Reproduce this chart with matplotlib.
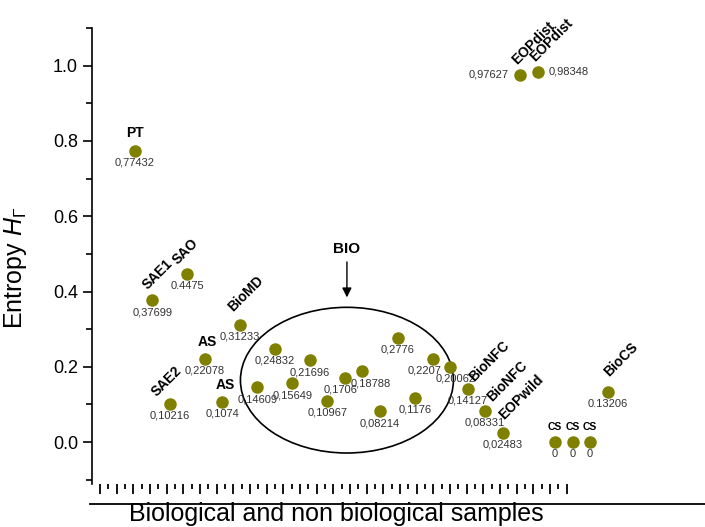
import numpy as np
import matplotlib.pyplot as plt
from matplotlib.patches import Ellipse
from matplotlib.lines import Line2D

plt.rcParams['font.family'] = ['Liberation Sans', 'DejaVu Sans']
plt.rcParams['mathtext.fontset'] = 'custom'
plt.rcParams['mathtext.rm'] = 'Liberation Sans'
plt.rcParams['mathtext.it'] = 'Liberation Sans:italic'

# sample names (empty = unnamed BIO samples inside the ellipse)
names = ['PT', 'SAE1', 'SAE2', 'SAO', 'AS', 'AS', 'BioMD',
         '', '', '', '', '', '', '', '', '', '', '', '',
         'BioNFC', 'BioNFC', 'EOPwild', 'EOPdist', 'EOPdist',
         'CS', 'CS', 'CS', 'BioCS']
value_labels = ['0,77432', '0,37699', '0,10216', '0.4475', '0,22078', '0,1074', '0,31233',
                '0,14609', '0,24832', '0,15649', '0,21696', '0,10967', '0,1706', '0,18788',
                '0,08214', '0,2776', '0,1176', '0,2207', '0,20062',
                '0,14127', '0,08331', '0,02483', '0,97627', '0,98348',
                '0', '0', '0', '0.13206']
entropy = [float(s.replace(',', '.')) for s in value_labels]
samples = np.arange(1, len(entropy) + 1)

# label placement: (rotated?, dx, dy) in points
name_style = {
    'PT': (False, 0, 10), 'AS': (False, 2, 9), 'CS': (False, 0, 8.5),
    'SAE1': (True, -3.6, 7), 'SAO': (True, -7, 6.5), 'SAE2': (True, -10, 5),
    'BioMD': (True, -5, 9), 'EOPwild': (True, 1.5, 9.4), 'EOPdist': (True, -2, 7),
    'BioCS': (True, 1.5, 11),
}
nfc_offsets = [(5, 5), (5, 6.5)]
# small horizontal nudges for crowded value labels
value_dx = {'0,1706': -3, '0,18788': 6, '0,2207': -6, '0,20062': 4}

fig = plt.figure(figsize=(7.05, 5.27), dpi=100)
ax = fig.add_axes([92 / 705, 1 - 483.5 / 527, (640 - 92) / 705, (483.5 - 28) / 527])

ax.plot(samples, entropy, 'o', color='#808000', markersize=8, zorder=3)

nfc = 0
for x, y, name, lab in zip(samples, entropy, names, value_labels):
    # numeric value
    if lab == '0,97627':
        ax.annotate(lab, (x, y), xytext=(-8, 0), textcoords='offset points',
                    ha='right', va='center', fontsize=8, color='#333333')
    elif lab == '0,98348':
        ax.annotate(lab, (x, y), xytext=(8, 0), textcoords='offset points',
                    ha='left', va='center', fontsize=8, color='#333333')
    else:
        ax.annotate(lab, (x, y), xytext=(value_dx.get(lab, 0), -5),
                    textcoords='offset points', ha='center', va='top',
                    fontsize=8, color='#333333')
    if not name:
        continue
    if name == 'BioNFC':
        rot, dx, dy = (True,) + nfc_offsets[nfc]
        nfc += 1
    else:
        rot, dx, dy = name_style[name]
    if rot:
        ax.annotate(name, (x, y), xytext=(dx, dy), textcoords='offset points',
                    rotation=45, rotation_mode='anchor', ha='left', va='baseline',
                    fontsize=10, fontweight='bold')
    else:
        ax.annotate(name, (x, y), xytext=(dx, dy), textcoords='offset points',
                    ha='center', va='baseline', fontweight='bold',
                    fontsize=7.5 if name == 'CS' else 10)

# BIO group
ax.add_patch(Ellipse((13.11, 0.1645), 12.17, 0.387, fill=False, ec='black', lw=1.2))
ax.annotate('BIO', xy=(13.11, 0.377), xytext=(13.11, 0.512), ha='center', va='center',
            fontsize=11, fontweight='bold',
            arrowprops=dict(arrowstyle='-|>', color='black', lw=1, mutation_scale=14))

ax.set_xlim(-1.457, 29.857)
ax.set_ylim(-0.11, 1.1)
ax.set_yticks([0.0, 0.2, 0.4, 0.6, 0.8, 1.0])
ax.set_yticklabels(['0.0', '0.2', '0.4', '0.6', '0.8', '1.0'])
ax.set_yticks(np.arange(-0.1, 1.11, 0.1), minor=True)
ax.tick_params(axis='y', which='major', length=6.5, width=1.2, labelsize=13)
ax.tick_params(axis='y', which='minor', length=4, width=1.2)

step = 20 / 21
ax.set_xticks(-1 + step * np.arange(29))
ax.set_xticks(-1 + step * (np.arange(28) + 0.5), minor=True)
ax.tick_params(axis='x', which='major', length=7, width=1.3, labelbottom=False)
ax.tick_params(axis='x', which='minor', length=3.5, width=1.3)

for s in ['top', 'right', 'bottom']:
    ax.spines[s].set_visible(False)
ax.spines['left'].set_linewidth(1.2)

ax.set_ylabel('Entropy $H_\\Gamma$', fontsize=18)
ax.yaxis.set_label_coords(-0.115, 0.473)

fig.add_artist(Line2D([90 / 705, 1.0], [1 - 504 / 527] * 2, color='black', lw=1.3))
fig.text(336 / 705, 1 - 521 / 527, 'Biological and non biological samples',
         ha='center', va='baseline', fontsize=18)

fig.savefig('out.png', dpi=100)
